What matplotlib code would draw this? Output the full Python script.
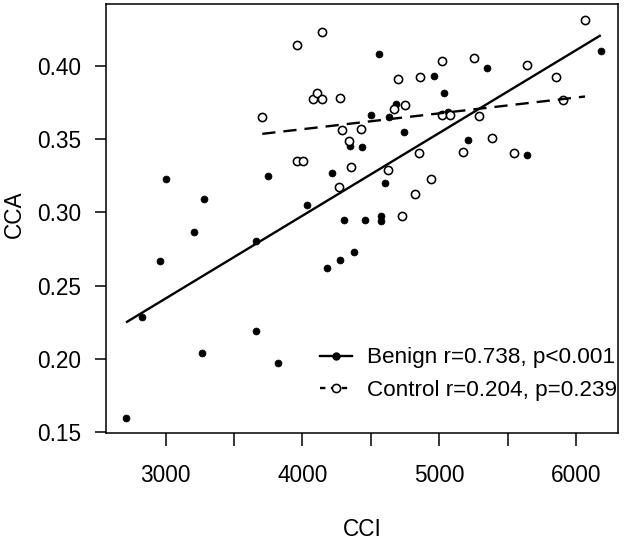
import numpy as np
import matplotlib
matplotlib.use("Agg")
import matplotlib.pyplot as plt
from matplotlib.lines import Line2D

plt.rcParams['font.family'] = ['Liberation Sans', 'DejaVu Sans']

# Benign group (filled dots)
benign_cci = [2710, 2829, 2958, 3002, 3207, 3263, 3280, 3658, 3658, 3750,
              3821, 4031, 4179, 4218, 4274, 4301, 4349, 4380, 4435, 4459,
              4504, 4557, 4576, 4572, 4601, 4634, 4681, 4740, 4963, 5036,
              5066, 5210, 5349, 5641, 6180]
benign_cca = [0.1596, 0.2289, 0.2667, 0.3227, 0.2865, 0.2041, 0.3094, 0.2806, 0.2193, 0.3249,
              0.1971, 0.3051, 0.2619, 0.3272, 0.2676, 0.2949, 0.3456, 0.2729, 0.3444, 0.2949,
              0.3668, 0.4084, 0.2976, 0.2939, 0.3203, 0.3651, 0.3741, 0.3548, 0.3934, 0.3818,
              0.3686, 0.3498, 0.3984, 0.3393, 0.4100]

# Control group (open circles)
control_cci = [3706, 3962, 3962, 4007, 4075, 4107, 4140, 4143, 4268, 4276,
               4287, 4340, 4351, 4425, 4627, 4669, 4700, 4725, 4749, 4820,
               4854, 4859, 4939, 5021, 5022, 5078, 5173, 5254, 5292, 5383,
               5548, 5641, 5851, 5902, 6065]
control_cca = [0.3654, 0.4141, 0.3350, 0.3350, 0.3777, 0.3818, 0.3777, 0.4232, 0.3176, 0.3784,
               0.3563, 0.3489, 0.3311, 0.3570, 0.3292, 0.3704, 0.3913, 0.2976, 0.3737, 0.3124,
               0.3408, 0.3927, 0.3230, 0.3666, 0.4036, 0.3666, 0.3416, 0.4057, 0.3661, 0.3511,
               0.3404, 0.4009, 0.3923, 0.3768, 0.4314]

benign_label = "Benign r=0.738, p<0.001"
control_label = "Control r=0.204, p=0.239"

x_ticks = [3000, 3500, 4000, 4500, 5000, 5500, 6000]
x_ticklabels = ["3000", "", "4000", "", "5000", "", "6000"]
y_ticks = [0.15, 0.20, 0.25, 0.30, 0.35, 0.40]
y_ticklabels = ["0.15", "0.20", "0.25", "0.30", "0.35", "0.40"]

W, H = 624, 542
fig = plt.figure(figsize=(W / 100, H / 100), dpi=100)
ax = fig.add_axes([106 / W, 1 - 433.3 / H, 512 / W, 429.3 / H])

bx = np.array(benign_cci, float); by = np.array(benign_cca, float)
cx = np.array(control_cci, float); cy = np.array(control_cca, float)

FILL_MS = 5.0
OPEN_MS = 5.9
ax.plot(bx, by, linestyle='none', marker='o', ms=FILL_MS, mfc='black', mec='black', mew=0.5)
ax.plot(cx, cy, linestyle='none', marker='o', ms=OPEN_MS, mfc='white', mec='black', mew=1.15)

bfit = np.polyfit(bx, by, 1)
cfit = np.polyfit(cx, cy, 1)
bxx = np.array([bx.min(), bx.max()])
cxx = np.array([cx.min(), cx.max()])
LW = 1.7
dash = (0, (5.6, 3.4))
ax.plot(bxx, np.polyval(bfit, bxx), color='black', lw=LW, solid_capstyle='butt')
ax.plot(cxx, np.polyval(cfit, cxx), color='black', lw=LW, linestyle=dash)

h1 = Line2D([], [], color='black', lw=LW, marker='o', ms=FILL_MS, mfc='black', mec='black')
h2 = Line2D([], [], color='black', lw=LW, linestyle=(0, (2.3, 2.3)), marker='o', ms=OPEN_MS,
            mfc='white', mec='black', mew=1.15)
leg = ax.legend([h1, h2], [benign_label, control_label], loc='center left',
                bbox_to_anchor=(320 / W, 1 - 374 / H), bbox_transform=fig.transFigure,
                frameon=False, fontsize=16.2, handlelength=1.4, handletextpad=0.68,
                borderpad=0, borderaxespad=0, labelspacing=0.5)

ax.set_xlim(2564, 6306)
ax.set_ylim(0.1493, 0.4423)
ax.set_xticks(x_ticks)
ax.set_xticklabels(x_ticklabels)
ax.set_yticks(y_ticks)
ax.set_yticklabels(y_ticklabels)
ax.tick_params(axis='x', length=9.4, width=1.1, pad=13, labelsize=16.3)
ax.tick_params(axis='y', length=7.9, width=1.1, pad=10, labelsize=16.3)
for s in ax.spines.values():
    s.set_linewidth(1.1)

ax.set_xlabel("CCI", fontsize=16.3)
ax.set_ylabel("CCA", fontsize=16.3)
ax.xaxis.set_label_coords(0.5, -(530 - 433.3) / 429.3)
ax.xaxis.label.set_va('center')
ax.yaxis.set_label_coords(-(106 - 14) / 512, (433.3 - 214.5) / 429.3)
ax.yaxis.label.set_va('center')

fig.savefig("out.png", dpi=100)
